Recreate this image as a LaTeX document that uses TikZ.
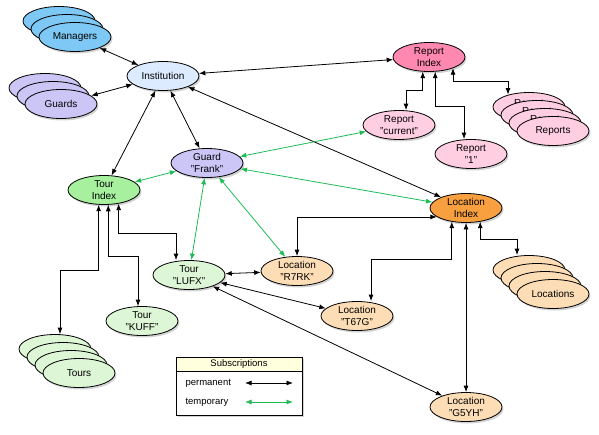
\documentclass[tikz,border=0pt]{standalone}
\usepackage{fontspec}
\setmainfont{Liberation Sans}
\usetikzlibrary{shapes.geometric,arrows.meta,shadows}

\definecolor{managerblue}{RGB}{125,200,245}
\definecolor{instblue}{RGB}{220,235,255}
\definecolor{guardlilac}{RGB}{204,198,247}
\definecolor{touridxgreen}{RGB}{166,240,158}
\definecolor{tourgreen}{RGB}{221,246,214}
\definecolor{repidxpink}{RGB}{255,136,176}
\definecolor{reppink}{RGB}{255,206,224}
\definecolor{locidxorange}{RGB}{248,160,64}
\definecolor{locpeach}{RGB}{253,221,181}
\definecolor{tempgreen}{RGB}{30,187,85}
\definecolor{legendyellow}{RGB}{255,255,221}

\begin{document}
\begin{tikzpicture}[x=1pt,y=-1pt,
	every node/.style={font=\fontsize{10}{11.5}\selectfont},
	item/.style={ellipse,draw,line width=0.8pt,minimum width=72pt,minimum height=29pt,
		inner sep=0pt,align=center,
		drop shadow={shadow xshift=1.5pt,shadow yshift=-2pt,opacity=0.35}},
	perm/.style={<->,>={Latex[length=6.5pt,width=5pt]},line width=0.8pt},
	temp/.style={perm,draw=tempgreen}]
	\useasboundingbox (0,0) rectangle (599,434);

	% stacks
	\foreach \k in {2,1}
		\node[item,fill=managerblue] (managers\k) at (75-8*\k,37-8*\k) {};
	\node[item,fill=managerblue] (managers) at (75,37) {Managers};
	\foreach \k in {2,1}
		\node[item,fill=guardlilac] (guards\k) at (61-8*\k,104-8*\k) {};
	\node[item,fill=guardlilac] (guards) at (61,104) {Guards};
	\foreach \k in {3,2,1}
		\node[item,fill=reppink] (reports\k) at (553-8*\k,131-8*\k) {\raisebox{8pt}{Report}};
	\node[item,fill=reppink] (reports) at (553,131) {Reports};
	\foreach \k in {3,2,1}
		\node[item,fill=tourgreen] (tours\k) at (79-8*\k,373-8*\k) {};
	\node[item,fill=tourgreen] (tours) at (79,373) {Tours};
	\foreach \k in {3,2,1}
		\node[item,fill=locpeach] (locs\k) at (553-8*\k,294-8*\k) {};
	\node[item,fill=locpeach] (locs) at (553,294) {Locations};

	% single items
	\node[item,fill=instblue] (inst) at (163,76) {Institution};
	\node[item,fill=guardlilac] (frank) at (207,163) {Guard\\"Frank"};
	\node[item,fill=touridxgreen] (touridx) at (104,190) {Tour\\Index};
	\node[item,fill=repidxpink] (repidx) at (429,57) {Report\\Index};
	\node[item,fill=reppink] (repcur) at (399,125) {Report\\"current"};
	\node[item,fill=reppink] (rep1) at (471,154) {Report\\"1"};
	\node[item,fill=locidxorange] (locidx) at (466,208) {Location\\Index};
	\node[item,fill=tourgreen] (lufx) at (189,275) {Tour\\"LUFX"};
	\node[item,fill=tourgreen] (kuff) at (142,321) {Tour\\"KUFF"};
	\node[item,fill=locpeach] (r7rk) at (297,271) {Location\\"R7RK"};
	\node[item,fill=locpeach] (t67g) at (357,316) {Location\\"T67G"};
	\node[item,fill=locpeach] (g5yh) at (466,407) {Location\\"G5YH"};

	% permanent
	\draw[perm] (managers) -- (inst);
	\draw[perm] (guards) -- (inst);
	\draw[perm] (inst) -- (repidx);
	\draw[perm] (inst) -- (touridx);
	\draw[perm] (inst) -- (frank);
	\draw[perm] (inst) -- (locidx);
	\draw[perm] (repidx.247) -- ++(0,19) -| ([xshift=7pt]repcur.north);
	\draw[perm] (repidx.293) -- ++(0,35) -| ([xshift=-7pt]rep1.north);
	\draw[perm] (repidx.335) -- ++(0,13) -| ([xshift=-21pt,yshift=-2.5pt]reports3.north);
	\draw[perm] (touridx.317) -- ++(0,30) -| ([xshift=-13pt]lufx.north);
	\draw[perm] (touridx.286) -- ++(0,52) -| ([xshift=-4pt]kuff.north);
	\draw[perm] (touridx.250) -- ++(0,66) -| ([xshift=5pt]tours3.north);
	\draw[perm] (lufx) -- (r7rk);
	\draw[perm] (lufx) -- (t67g);
	\draw[perm] (lufx) -- (g5yh);
	\draw[perm] (locidx.197) -| (r7rk);
	\draw[perm] (locidx.224) -- ++(0,38) -| ([xshift=14pt]t67g.north);
	\draw[perm] (locidx) -- (g5yh);
	\draw[perm] (locidx.316) -- ++(0,18) -| ([xshift=-12pt]locs3.north);

	% temporary
	\draw[temp] (frank) -- (touridx);
	\draw[temp] (frank) -- (repcur);
	\draw[temp] (frank) -- (locidx);
	\draw[temp] (frank) -- (lufx);
	\draw[temp] (frank) -- (r7rk);

	% legend
	\draw[fill=white,line width=0.8pt,drop shadow={shadow xshift=1.5pt,shadow yshift=-2pt,opacity=0.35}]
		(176,357) rectangle (302,415);
	\fill[legendyellow] (176,357) rectangle (302,371);
	\draw[line width=0.8pt] (176,357) rectangle (302,415) (176,371) -- (302,371);
	\node[font=\fontsize{9.5}{11}\selectfont] (legtitle) at (239,364) {Subscriptions};
	\node[font=\fontsize{9.5}{11}\selectfont,anchor=west] (legperm) at (182,383) {permanent};
	\node[font=\fontsize{9.5}{11}\selectfont,anchor=west] (legtemp) at (182,402) {temporary};
	\coordinate (permA) at (245,383);
	\coordinate (permB) at (293,383);
	\coordinate (tempA) at (245,402);
	\coordinate (tempB) at (293,402);
	\draw[perm] (permA) -- (permB);
	\draw[temp] (tempA) -- (tempB);
\end{tikzpicture}
\end{document}
